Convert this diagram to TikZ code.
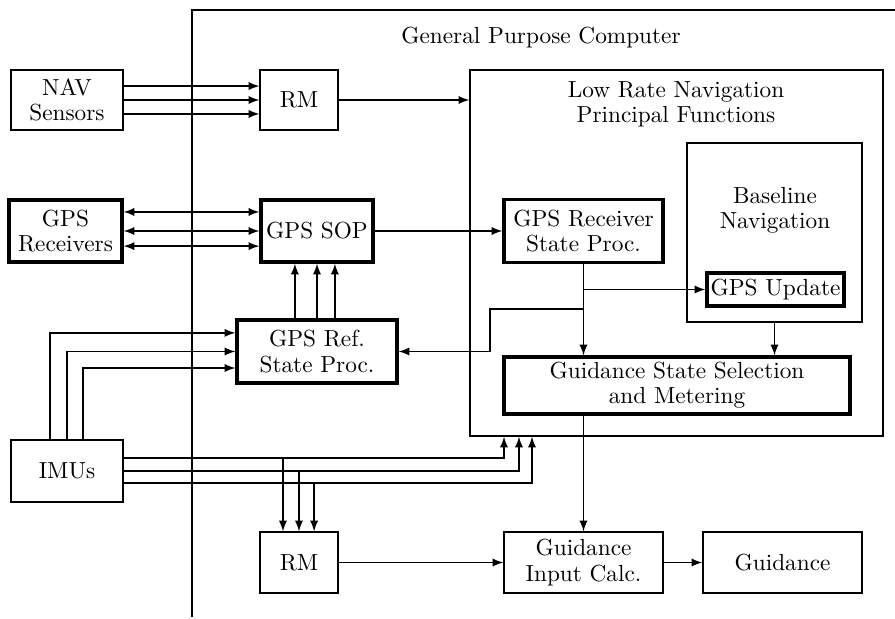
\documentclass[tikz,border=0pt]{standalone}
\begin{document}
\begin{tikzpicture}[-latex, x=4.3pt, y=4.3pt, line width=0.6pt,
  blk/.style={draw, line width=0.6pt, align=center, inner sep=1pt, font=\fontsize{10}{10.8}\selectfont},
  thk/.style={blk, line width=1.4pt},
  txt/.style={align=center, font=\fontsize{10}{10.8}\selectfont}]
\useasboundingbox (0,0) rectangle (89.5,61.8);
% general purpose computer frame
\draw[-] (19.2,0.1) -- (19.2,60.8) -- (89.5,60.8);
\node[txt] (gpc) at (54.1,58.0) {General Purpose Computer};

\node[blk, minimum width=48.2pt, minimum height=25.8pt] (nav) at (6.7,51.8) {NAV\\Sensors};
\node[blk, minimum width=33.5pt, minimum height=25.8pt] (rm1) at (29.9,51.8) {RM};
\node[thk, minimum width=48.6pt, minimum height=26.7pt] (gpsrx) at (6.55,38.7) {GPS\\Receivers};
\node[thk, minimum width=48.2pt, minimum height=26.7pt] (sop) at (31.7,38.7) {GPS SOP};
\node[blk, minimum width=177.6pt, minimum height=157.4pt] (lrn) at (67.65,36.5) {};
\node[txt] (lrntxt) at (67.6,51.4) {Low Rate Navigation\\Principal Functions};
\node[thk, minimum width=68.4pt, minimum height=27.1pt] (rxsp) at (58.35,38.7) {GPS Receiver\\State Proc.};
\node[blk, minimum width=75.3pt, minimum height=77pt] (bln) at (77.45,38.55) {};
\node[txt] (blntxt) at (77.5,40.8) {Baseline\\Navigation};
\node[thk, minimum width=58.9pt, minimum height=14.2pt, inner sep=0pt] (upd) at (77.55,32.85) {GPS Update};
\node[thk, minimum width=148.8pt, minimum height=24.5pt] (gssm) at (67.7,23.25) {Guidance State Selection\\and Metering};
\node[thk, minimum width=68.8pt, minimum height=27.1pt] (refsp) at (31.7,26.65) {GPS Ref.\\State Proc.};
\node[blk, minimum width=48.2pt, minimum height=26.7pt] (imu) at (6.7,14.7) {IMUs};
\node[blk, minimum width=33.5pt, minimum height=26.2pt] (rm2) at (29.9,5.55) {RM};
\node[blk, minimum width=68.4pt, minimum height=26.2pt] (gic) at (58.35,5.55) {Guidance\\Input Calc.};
\node[blk, minimum width=68.4pt, minimum height=26.2pt] (guid) at (78.25,5.55) {Guidance};

% sensors in
\foreach \dy in {6,0,-6} \draw ([yshift=\dy pt]nav.east) -- ([yshift=\dy pt]rm1.west);
\draw (rm1.east) -- (rm1.east -| lrn.west);
\foreach \dy in {8.2,0,-6.5} \draw[latex-latex] ([yshift=\dy pt]gpsrx.east) -- ([yshift=\dy pt]sop.west);
\draw (sop.east) -- (rxsp.west);
\foreach \dx in {-9.5,0,7.7} \draw ([xshift=\dx pt]refsp.north) -- ([xshift=\dx pt]sop.south);
\foreach \dx/\dy in {-7.3/8, 0/0, 6.9/-7.1} \draw ([xshift=\dx pt]imu.north) |- ([yshift=\dy pt]refsp.west);

% inside low rate navigation
\draw (rxsp.south) -- (rxsp.south |- gssm.north);
\draw (rxsp.south |- upd.west) -- (upd.west);
\draw (rxsp.south |- 0,30.9) -- (49,30.9) |- (refsp.east);
\draw (bln.south) -- (bln.south |- gssm.north);

% imu lines
\foreach \dy/\x in {5.6/50.4, 0/51.9, -5.2/53.2} \draw ([yshift=\dy pt]imu.east) -| (lrn.south -| \x,0);
\foreach \dx/\y in {-6.9/16.0, 0/14.7, 6.5/13.5} \draw ([xshift=\dx pt]rm2.north |- 0,\y) -- ([xshift=\dx pt]rm2.north);

% guidance out
\draw (gssm.south -| gic.north) -- (gic.north);
\draw (rm2.east) -- (gic.west);
\draw (gic.east) -- (guid.west);
\end{tikzpicture}
\end{document}
